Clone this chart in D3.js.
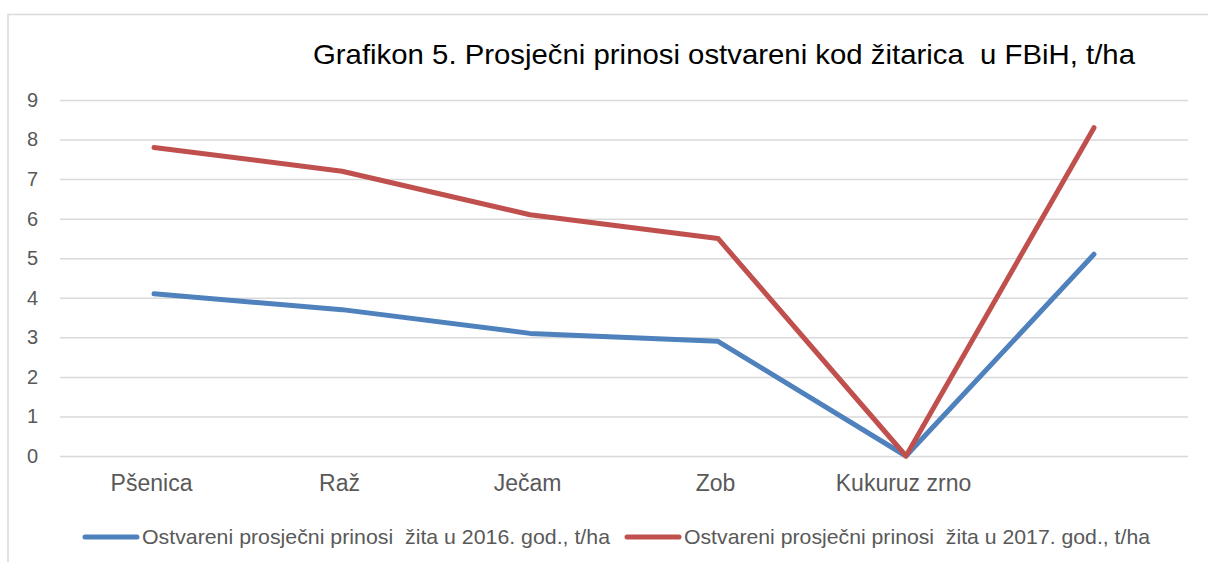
<!DOCTYPE html>
<html>
<head>
<meta charset="utf-8">
<script src="https://cdn.jsdelivr.net/npm/d3@7"></script>
<style>
  body { margin: 0; background: #fff; }
  text { font-family: "Liberation Sans", Arial, sans-serif; white-space: pre; }
</style>
</head>
<body>
<script>
var w = 1208;
var h = 562;

var categories = ["Pšenica", "Raž", "Ječam", "Zob", "Kukuruz zrno", ""];
var yield2016 = [4.1, 3.7, 3.1, 2.9, 0, 5.1];
var yield2017 = [7.8, 7.2, 6.1, 5.5, 0, 8.3];
var yTicks = [0, 1, 2, 3, 4, 5, 6, 7, 8, 9];
var seriesNames = ["Ostvareni prosječni prinosi  žita u 2016. god., t/ha",
                   "Ostvareni prosječni prinosi  žita u 2017. god., t/ha"];
var colors = ["#4f81bd", "#c0504d"];

var plotLeft = 60, plotRight = 1188, plotTop = 100, plotBottom = 456;

var xScale = d3.scalePoint()
               .domain(d3.range(categories.length))
               .range([plotLeft, plotRight])
               .padding(0.5);

var yScale = d3.scaleLinear()
               .domain([0, 9])
               .range([plotBottom, plotTop]);

var svg = d3.select("body")
            .append("svg")
            .attr("width", w)
            .attr("height", h);

// frame (cut off on right and bottom like the original)
svg.append("path")
   .attr("d", "M8," + h + "V14.5H" + w)
   .attr("fill", "none")
   .attr("stroke", "#d9d9d9")
   .attr("stroke-width", 1.5);

// title
svg.append("text")
   .attr("x", 313)
   .attr("y", 64)
   .attr("font-size", "28px")
   .attr("fill", "#000")
   .attr("textLength", 822)
   .attr("lengthAdjust", "spacingAndGlyphs")
   .text("Grafikon 5. Prosječni prinosi ostvareni kod žitarica  u FBiH, t/ha");

// y axis + gridlines
var yAxis = d3.axisLeft(yScale)
              .tickValues(yTicks)
              .tickSize(-(plotRight - plotLeft))
              .tickPadding(22)
              .tickFormat(d3.format("d"));

var gy = svg.append("g")
   .attr("transform", "translate(" + plotLeft + ",0)")
   .call(yAxis);
gy.select(".domain").remove();
gy.selectAll("line").attr("stroke", "#d9d9d9").attr("stroke-width", 1.5);
gy.selectAll("text")
  .attr("font-size", "20px")
  .attr("fill", "#595959")
  .attr("font-family", "Liberation Sans, Arial, sans-serif");

// x axis labels
var xAxis = d3.axisBottom(xScale)
              .tickSize(0)
              .tickPadding(19)
              .tickFormat(function(i) { return categories[i]; });

var gx = svg.append("g")
   .attr("transform", "translate(-3," + plotBottom + ")")
   .call(xAxis);
gx.select(".domain").remove();
gx.selectAll("text")
  .attr("font-size", "23px")
  .attr("fill", "#595959")
  .attr("font-family", "Liberation Sans, Arial, sans-serif");

// lines
var line = d3.line()
             .x(function(d, i) { return xScale(i); })
             .y(function(d) { return yScale(d); });

[yield2016, yield2017].forEach(function(s, k) {
  svg.append("path")
     .datum(s)
     .attr("d", line)
     .attr("fill", "none")
     .attr("stroke", colors[k])
     .attr("stroke-width", 5)
     .attr("stroke-linecap", "round")
     .attr("stroke-linejoin", "round");
});

// legend
var legendX = [85, 627];
var legendW = [468, 466];
seriesNames.forEach(function(name, k) {
  svg.append("line")
     .attr("x1", legendX[k]).attr("x2", legendX[k] + 52)
     .attr("y1", 537).attr("y2", 537)
     .attr("stroke", colors[k])
     .attr("stroke-width", 5)
     .attr("stroke-linecap", "round");
  svg.append("text")
     .attr("x", legendX[k] + 57)
     .attr("y", 544)
     .attr("font-size", "21px")
     .attr("fill", "#595959")
     .attr("textLength", legendW[k])
     .attr("lengthAdjust", "spacingAndGlyphs")
     .text(name);
});
</script>
</body>
</html>
